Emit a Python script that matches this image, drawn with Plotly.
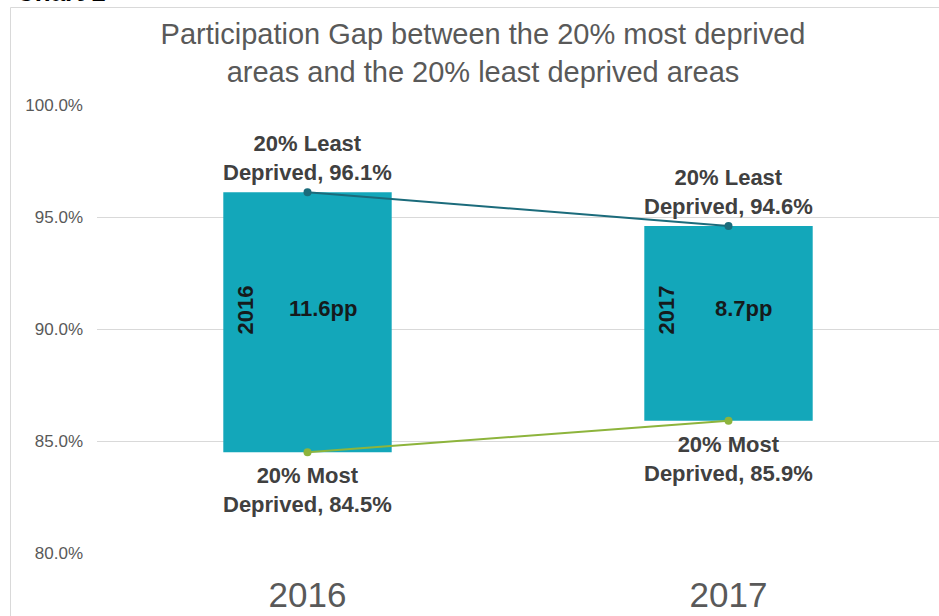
import plotly.graph_objects as go

# data
years = ["2016", "2017"]
least_deprived = [96.1, 94.6]
most_deprived = [84.5, 85.9]
gap = [round(l - m, 1) for l, m in zip(least_deprived, most_deprived)]

W, H = 939, 616
M_L, M_R, M_T, M_B = 97, 0, 105, 63
plot_w = W - M_L - M_R
plot_h = H - M_T - M_B

GREY = "#595959"
LABEL = "#404040"
TEAL = "#13A7BA"
DARK_TEAL = "#1B6B7B"
OLIVE = "#8DB43C"
INNER = "#151a1c"
FONT = "Liberation Sans, Arial, sans-serif"


def px_x(p):
    return (p - M_L) / plot_w


def px_y(p):
    return (H - M_B - p) / plot_h


fig = go.Figure()

fig.add_trace(go.Bar(
    x=years, y=gap, base=most_deprived, width=0.4,
    marker=dict(color=TEAL, line=dict(width=0)),
    hoverinfo="skip", showlegend=False,
))

fig.add_trace(go.Scatter(
    x=years, y=least_deprived, mode="lines+markers",
    line=dict(color=DARK_TEAL, width=2),
    marker=dict(color=DARK_TEAL, size=8),
    showlegend=False,
))

fig.add_trace(go.Scatter(
    x=years, y=most_deprived, mode="lines+markers",
    line=dict(color=OLIVE, width=2),
    marker=dict(color=OLIVE, size=8),
    showlegend=False,
))

label_font = dict(size=22, color=LABEL, family=FONT)
inner_font = dict(size=22, color=INNER, family=FONT)

for i, yr in enumerate(years):
    # point labels
    fig.add_annotation(x=i, y=least_deprived[i], yanchor="bottom", yshift=5,
                       text=f"<b>20% Least<br>Deprived, {least_deprived[i]:.1f}%</b>",
                       showarrow=False, font=label_font)
    fig.add_annotation(x=i, y=most_deprived[i], yanchor="top", yshift=-9,
                       text=f"<b>20% Most<br>Deprived, {most_deprived[i]:.1f}%</b>",
                       showarrow=False, font=label_font)
    # year and gap labels inside the bars
    fig.add_annotation(x=i, y=90.85, text=f"<b>{yr}</b>", textangle=-90,
                       xshift=-62, showarrow=False, font=inner_font)
    fig.add_annotation(x=i, y=90.9, text=f"<b>{gap[i]:.1f}pp</b>",
                       xshift=15, showarrow=False, font=inner_font)

# partially visible "Chart 1" heading above the frame
fig.add_annotation(x=px_x(14), y=px_y(9), xref="paper", yref="paper",
                   xanchor="left", yanchor="bottom", showarrow=False,
                   text="<b>Chart 1</b>",
                   font=dict(size=26, color="#000000", family=FONT))

# chart frame
fig.add_shape(type="line", xref="paper", yref="paper",
              x0=px_x(10.5), x1=px_x(W + 5), y0=px_y(7.5), y1=px_y(7.5),
              line=dict(color="#d9d9d9", width=1))
fig.add_shape(type="line", xref="paper", yref="paper",
              x0=px_x(10.5), x1=px_x(10.5), y0=px_y(7.5), y1=px_y(H + 5),
              line=dict(color="#d9d9d9", width=1))

fig.update_layout(
    width=W, height=H,
    margin=dict(l=M_L, r=M_R, t=M_T, b=M_B),
    paper_bgcolor="white", plot_bgcolor="white",
    font=dict(family=FONT, color=GREY),
    title=dict(
        text="Participation Gap between the 20% most deprived<br>areas and the 20% least deprived areas",
        x=483 / W, xanchor="center", xref="container",
        y=1 - 44 / H, yanchor="top", yref="container",
        font=dict(size=29, color=GREY, family=FONT),
    ),
    xaxis=dict(
        type="category", range=[-0.5, 1.5],
        showgrid=False, showline=False, zeroline=False,
        tickfont=dict(size=35, color=GREY),
        ticklabelstandoff=18,
    ),
    yaxis=dict(
        range=[80, 100], dtick=5, tickformat=".1f", ticksuffix="%",
        showgrid=True, gridcolor="#d9d9d9", gridwidth=1,
        zeroline=False, showline=False,
        tickfont=dict(size=17, color=GREY),
        ticklabelstandoff=13,
    ),
    hovermode=False,
)

fig.write_html("out.html", config={"displayModeBar": False},
               post_script="document.body.style.margin='0px';")
